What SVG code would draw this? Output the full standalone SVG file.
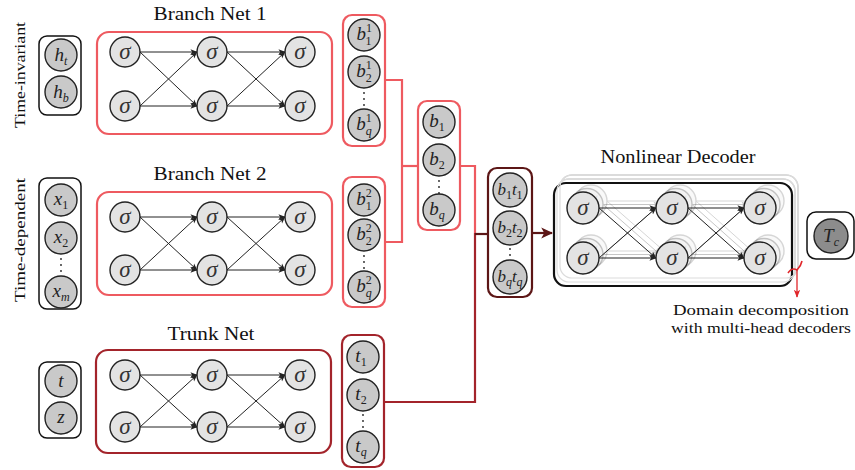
<svg xmlns="http://www.w3.org/2000/svg" xmlns:xlink="http://www.w3.org/1999/xlink" width="855" height="470" viewBox="0 0 855 470">
<style>
  .lbl { font-family: "Liberation Serif", "DejaVu Serif", serif; fill: #111; }
  .title { font-size: 19px; text-anchor: middle; }
  .side { font-size: 15.5px; text-anchor: middle; }
  .m { font-family: "Liberation Serif", "DejaVu Serif", serif; font-style: italic; font-size: 19px; text-anchor: middle; fill: #222; }
  .s { font-size: 12px; font-style: normal; }
  .si { font-size: 12px; }
  .sig { font-family: "Liberation Serif", "DejaVu Serif", serif; font-style: italic; font-size: 23px; text-anchor: middle; fill: #333; }
  .in { fill: #c9c9c9; stroke: #222; stroke-width: 1.4; }
  .neu { fill: #e3e3e3; stroke: #222; stroke-width: 1.4; }
  .box { fill: #fff; stroke: #111; stroke-width: 1.5; }
  .lr { fill: none; stroke: #ee5a60; stroke-width: 2.2; }
  .dr { fill: none; stroke: #a3242b; stroke-width: 2.2; }
  .mr { fill: none; stroke: #5c1616; stroke-width: 2.2; }
  .edge { stroke: #222; stroke-width: 1; fill: none; marker-end: url(#ah); }
  .dots { fill: #222; }
</style>
<defs>
  <marker id="ah" viewBox="0 0 8 8" refX="7.5" refY="4" markerWidth="7" markerHeight="7" markerUnits="userSpaceOnUse" orient="auto">
    <path d="M0,0.8 L8,4 L0,7.2 L2,4 Z" fill="#222"/>
  </marker>
  <marker id="ahm" viewBox="0 0 10 10" refX="9" refY="5" markerWidth="12" markerHeight="12" markerUnits="userSpaceOnUse" orient="auto">
    <path d="M0,0.5 L10,5 L0,9.5 L2.5,5 Z" fill="#5c1616"/>
  </marker>
  <marker id="ahr" viewBox="0 0 10 10" refX="9" refY="5" markerWidth="8" markerHeight="8" markerUnits="userSpaceOnUse" orient="auto">
    <path d="M0,1 L10,5 L0,9 L2.5,5 Z" fill="#e0262a"/>
  </marker>
</defs>

<rect width="855" height="470" fill="#fff"/>

<!-- side labels -->
<text class="lbl side" transform="translate(25,75) rotate(-90)" textLength="106" lengthAdjust="spacingAndGlyphs">Time-invariant</text>
<text class="lbl side" transform="translate(25,240) rotate(-90)" textLength="124" lengthAdjust="spacingAndGlyphs">Time-dependent</text>

<!-- input groups -->
<g id="in-h">
  <rect class="box" x="39" y="36" width="42" height="79" rx="8"/>
  <circle class="in" cx="61" cy="55" r="16"/>
  <text class="m" x="61" y="61">h<tspan class="si" dy="4">t</tspan></text>
  <circle class="in" cx="61" cy="92" r="16"/>
  <text class="m" x="61" y="98">h<tspan class="si" dy="4">b</tspan></text>
</g>
<g id="in-x">
  <rect class="box" x="39" y="178" width="42" height="131" rx="8"/>
  <circle class="in" cx="61" cy="200" r="16"/>
  <text class="m" x="61" y="205">x<tspan class="s" dy="4">1</tspan></text>
  <circle class="in" cx="61" cy="238" r="16"/>
  <text class="m" x="61" y="243">x<tspan class="s" dy="4">2</tspan></text>
  <circle class="dots" cx="61" cy="259" r="0.9"/><circle class="dots" cx="61" cy="265" r="0.9"/><circle class="dots" cx="61" cy="271" r="0.9"/>
  <circle class="in" cx="61" cy="292" r="16"/>
  <text class="m" x="61" y="297">x<tspan class="si" dy="4">m</tspan></text>
</g>
<g id="in-tz">
  <rect class="box" x="39" y="362" width="42" height="76" rx="8"/>
  <circle class="in" cx="61" cy="381" r="16"/>
  <text class="m" x="61" y="387">t</text>
  <circle class="in" cx="61" cy="418" r="16"/>
  <text class="m" x="61" y="423">z</text>
</g>

<!-- Branch Net 1 -->
<g id="branch1">
  <text class="lbl title" x="210" y="20" textLength="113" lengthAdjust="spacingAndGlyphs">Branch Net 1</text>
  <rect class="lr" x="97" y="32" width="235" height="102" rx="12"/>
  <g class="edges">
    <line class="edge" x1="140" y1="52" x2="197" y2="52"/>
    <line class="edge" x1="140" y1="52" x2="197" y2="106"/>
    <line class="edge" x1="140" y1="106" x2="197" y2="52"/>
    <line class="edge" x1="140" y1="106" x2="197" y2="106"/>
    <line class="edge" x1="227" y1="52" x2="285" y2="52"/>
    <line class="edge" x1="227" y1="52" x2="285" y2="106"/>
    <line class="edge" x1="227" y1="106" x2="285" y2="52"/>
    <line class="edge" x1="227" y1="106" x2="285" y2="106"/>
  </g>
  <g id="b1-n11"><circle class="neu" cx="125" cy="52" r="15"/><text class="sig" x="125" y="59">σ</text></g>
  <g id="b1-n12"><circle class="neu" cx="125" cy="106" r="15"/><text class="sig" x="125" y="113">σ</text></g>
  <g id="b1-n21"><circle class="neu" cx="212" cy="52" r="15"/><text class="sig" x="212" y="59">σ</text></g>
  <g id="b1-n22"><circle class="neu" cx="212" cy="106" r="15"/><text class="sig" x="212" y="113">σ</text></g>
  <g id="b1-n31"><circle class="neu" cx="300" cy="52" r="15"/><text class="sig" x="300" y="59">σ</text></g>
  <g id="b1-n32"><circle class="neu" cx="300" cy="106" r="15"/><text class="sig" x="300" y="113">σ</text></g>
</g>

<!-- Branch Net 2 -->
<g id="branch2">
  <text class="lbl title" x="210" y="180" textLength="113" lengthAdjust="spacingAndGlyphs">Branch Net 2</text>
  <rect class="lr" x="97" y="192" width="235" height="103" rx="12"/>
  <g class="edges">
    <line class="edge" x1="140" y1="217" x2="197" y2="217"/>
    <line class="edge" x1="140" y1="217" x2="197" y2="270"/>
    <line class="edge" x1="140" y1="270" x2="197" y2="217"/>
    <line class="edge" x1="140" y1="270" x2="197" y2="270"/>
    <line class="edge" x1="227" y1="217" x2="285" y2="217"/>
    <line class="edge" x1="227" y1="217" x2="285" y2="270"/>
    <line class="edge" x1="227" y1="270" x2="285" y2="217"/>
    <line class="edge" x1="227" y1="270" x2="285" y2="270"/>
  </g>
  <g id="b2-n11"><circle class="neu" cx="125" cy="217" r="15"/><text class="sig" x="125" y="224">σ</text></g>
  <g id="b2-n12"><circle class="neu" cx="125" cy="270" r="15"/><text class="sig" x="125" y="277">σ</text></g>
  <g id="b2-n21"><circle class="neu" cx="212" cy="217" r="15"/><text class="sig" x="212" y="224">σ</text></g>
  <g id="b2-n22"><circle class="neu" cx="212" cy="270" r="15"/><text class="sig" x="212" y="277">σ</text></g>
  <g id="b2-n31"><circle class="neu" cx="300" cy="217" r="15"/><text class="sig" x="300" y="224">σ</text></g>
  <g id="b2-n32"><circle class="neu" cx="300" cy="270" r="15"/><text class="sig" x="300" y="277">σ</text></g>
</g>

<!-- Trunk Net -->
<g id="trunk">
  <text class="lbl title" x="211" y="340" textLength="87" lengthAdjust="spacingAndGlyphs">Trunk Net</text>
  <rect class="dr" x="96" y="350" width="235" height="103" rx="12"/>
  <g class="edges">
    <line class="edge" x1="140" y1="375" x2="197" y2="375"/>
    <line class="edge" x1="140" y1="375" x2="197" y2="427"/>
    <line class="edge" x1="140" y1="427" x2="197" y2="375"/>
    <line class="edge" x1="140" y1="427" x2="197" y2="427"/>
    <line class="edge" x1="227" y1="375" x2="285" y2="375"/>
    <line class="edge" x1="227" y1="375" x2="285" y2="427"/>
    <line class="edge" x1="227" y1="427" x2="285" y2="375"/>
    <line class="edge" x1="227" y1="427" x2="285" y2="427"/>
  </g>
  <g id="t-n11"><circle class="neu" cx="125" cy="375" r="15"/><text class="sig" x="125" y="382">σ</text></g>
  <g id="t-n12"><circle class="neu" cx="125" cy="427" r="15"/><text class="sig" x="125" y="434">σ</text></g>
  <g id="t-n21"><circle class="neu" cx="212" cy="375" r="15"/><text class="sig" x="212" y="382">σ</text></g>
  <g id="t-n22"><circle class="neu" cx="212" cy="427" r="15"/><text class="sig" x="212" y="434">σ</text></g>
  <g id="t-n31"><circle class="neu" cx="300" cy="375" r="15"/><text class="sig" x="300" y="382">σ</text></g>
  <g id="t-n32"><circle class="neu" cx="300" cy="427" r="15"/><text class="sig" x="300" y="434">σ</text></g>
</g>

<!-- connectors between output columns -->
<g id="connectors">
  <path class="lr" d="M385,80 H402 V242 H385"/>
  <path class="lr" d="M402,166 H418"/>
  <path class="lr" d="M460,166 H475 V233"/>
  <path class="dr" d="M384,402 H475 V233"/>
  <path class="mr" d="M475,234 H488"/>
  <path class="mr" d="M532,233 H552" marker-end="url(#ahm)"/>
</g>

<!-- branch 1 outputs -->
<g id="out-b1">
  <rect class="lr" x="343" y="15" width="42" height="131" rx="9"/>
  <circle class="in" cx="364" cy="35" r="16"/>
  <text class="m" x="364" y="40">b<tspan class="s" dy="-8">1</tspan><tspan class="s" dx="-6" dy="13">1</tspan></text>
  <circle class="in" cx="364" cy="72" r="16"/>
  <text class="m" x="364" y="77">b<tspan class="s" dy="-8">1</tspan><tspan class="s" dx="-6" dy="13">2</tspan></text>
  <circle class="dots" cx="364" cy="93" r="0.9"/><circle class="dots" cx="364" cy="99" r="0.9"/><circle class="dots" cx="364" cy="105" r="0.9"/>
  <circle class="in" cx="364" cy="125" r="16"/>
  <text class="m" x="364" y="130">b<tspan class="s" dy="-8">1</tspan><tspan class="si" dx="-6" dy="13">q</tspan></text>
</g>

<!-- branch 2 outputs -->
<g id="out-b2">
  <rect class="lr" x="343" y="177" width="42" height="130" rx="9"/>
  <circle class="in" cx="364" cy="200" r="16"/>
  <text class="m" x="364" y="205">b<tspan class="s" dy="-8">2</tspan><tspan class="s" dx="-6" dy="13">1</tspan></text>
  <circle class="in" cx="364" cy="235" r="16"/>
  <text class="m" x="364" y="240">b<tspan class="s" dy="-8">2</tspan><tspan class="s" dx="-6" dy="13">2</tspan></text>
  <circle class="dots" cx="364" cy="256" r="0.9"/><circle class="dots" cx="364" cy="262" r="0.9"/><circle class="dots" cx="364" cy="268" r="0.9"/>
  <circle class="in" cx="364" cy="287" r="16"/>
  <text class="m" x="364" y="292">b<tspan class="s" dy="-8">2</tspan><tspan class="si" dx="-6" dy="13">q</tspan></text>
</g>

<!-- merged branch outputs -->
<g id="out-b">
  <rect class="lr" x="418" y="101" width="42" height="129" rx="9"/>
  <circle class="in" cx="439" cy="122" r="16"/>
  <text class="m" x="437" y="127">b<tspan class="s" dy="4">1</tspan></text>
  <circle class="in" cx="439" cy="160" r="16"/>
  <text class="m" x="437" y="165">b<tspan class="s" dy="4">2</tspan></text>
  <circle class="dots" cx="439" cy="181" r="0.9"/><circle class="dots" cx="439" cy="187" r="0.9"/><circle class="dots" cx="439" cy="193" r="0.9"/>
  <circle class="in" cx="439" cy="210" r="16"/>
  <text class="m" x="437" y="215">b<tspan class="si" dy="4">q</tspan></text>
</g>

<!-- trunk outputs -->
<g id="out-t">
  <rect class="dr" x="342" y="335" width="42" height="132" rx="9"/>
  <circle class="in" cx="363" cy="357" r="16"/>
  <text class="m" x="361" y="362">t<tspan class="s" dy="4">1</tspan></text>
  <circle class="in" cx="363" cy="395" r="16"/>
  <text class="m" x="361" y="400">t<tspan class="s" dy="4">2</tspan></text>
  <circle class="dots" cx="363" cy="415" r="0.9"/><circle class="dots" cx="363" cy="421" r="0.9"/><circle class="dots" cx="363" cy="427" r="0.9"/>
  <circle class="in" cx="363" cy="447" r="16"/>
  <text class="m" x="361" y="452">t<tspan class="si" dy="4">q</tspan></text>
</g>

<!-- products b_i t_i -->
<g id="out-bt">
  <rect class="mr" x="488" y="168" width="44" height="129" rx="9"/>
  <circle class="in" cx="510" cy="190" r="17"/>
  <text class="m" x="510" y="195" style="font-size:17px">b<tspan class="s" dy="4">1</tspan><tspan dy="-4">t</tspan><tspan class="s" dy="4">1</tspan></text>
  <circle class="in" cx="510" cy="228" r="17"/>
  <text class="m" x="510" y="233" style="font-size:17px">b<tspan class="s" dy="4">2</tspan><tspan dy="-4">t</tspan><tspan class="s" dy="4">2</tspan></text>
  <circle class="dots" cx="510" cy="249" r="0.9"/><circle class="dots" cx="510" cy="255" r="0.9"/><circle class="dots" cx="510" cy="261" r="0.9"/>
  <circle class="in" cx="510" cy="277" r="17"/>
  <text class="m" x="510" y="282" style="font-size:17px">b<tspan class="si" dy="4">q</tspan><tspan dy="-4">t</tspan><tspan class="si" dy="4">q</tspan></text>
</g>

<!-- Nonlinear Decoder with stacked heads -->
<g id="decoder">
  <text class="lbl title" x="678" y="163" textLength="155" lengthAdjust="spacingAndGlyphs">Nonlinear Decoder</text>
  <rect x="560" y="175" width="238" height="103" rx="12" fill="none" stroke="#cfcfcf" stroke-width="1.5"/>
  <rect x="557" y="179" width="238" height="103" rx="12" fill="none" stroke="#cfcfcf" stroke-width="1.5"/>
  <rect x="554" y="183" width="238" height="103" rx="12" fill="#fff" stroke="#111" stroke-width="2.2"/>
  <rect x="557" y="179" width="238" height="103" rx="12" fill="none" stroke="#dcdcdc" stroke-width="1.2"/>
  <rect x="560" y="175" width="238" height="103" rx="12" fill="none" stroke="#dcdcdc" stroke-width="1.2"/>
  <use xlink:href="#dec-net" href="#dec-net" transform="translate(8,-7)" opacity="0.18"/>
  <use xlink:href="#dec-net" href="#dec-net" transform="translate(4,-3.5)" opacity="0.25"/>
  <g id="dec-net">
    <g class="edges">
      <line class="edge" x1="599" y1="208" x2="656" y2="208"/>
      <line class="edge" x1="599" y1="208" x2="656" y2="258"/>
      <line class="edge" x1="599" y1="258" x2="656" y2="208"/>
      <line class="edge" x1="599" y1="258" x2="656" y2="258"/>
      <line class="edge" x1="688" y1="208" x2="744" y2="208"/>
      <line class="edge" x1="688" y1="208" x2="744" y2="258"/>
      <line class="edge" x1="688" y1="258" x2="744" y2="208"/>
      <line class="edge" x1="688" y1="258" x2="744" y2="258"/>
    </g>
    <g id="d-n11"><circle class="neu" cx="583" cy="208" r="16"/><text class="sig" x="583" y="215">σ</text></g>
    <g id="d-n12"><circle class="neu" cx="583" cy="258" r="16"/><text class="sig" x="583" y="265">σ</text></g>
    <g id="d-n21"><circle class="neu" cx="672" cy="208" r="16"/><text class="sig" x="672" y="215">σ</text></g>
    <g id="d-n22"><circle class="neu" cx="672" cy="258" r="16"/><text class="sig" x="672" y="265">σ</text></g>
    <g id="d-n31"><circle class="neu" cx="760" cy="208" r="16"/><text class="sig" x="760" y="215">σ</text></g>
    <g id="d-n32"><circle class="neu" cx="760" cy="258" r="16"/><text class="sig" x="760" y="265">σ</text></g>
  </g>
  <path d="M788,273 Q792,267 797,270 Q801,266 802,261" fill="none" stroke="#e0262a" stroke-width="1.6"/>
  <path d="M797,270 V297" fill="none" stroke="#e0262a" stroke-width="1.3" marker-end="url(#ahr)"/>
  <text class="lbl side" x="761" y="315" textLength="176" lengthAdjust="spacingAndGlyphs">Domain decomposition</text>
  <text class="lbl side" x="761" y="333" textLength="180" lengthAdjust="spacingAndGlyphs">with multi-head decoders</text>
</g>

<!-- output T_c -->
<g id="out-Tc">
  <rect class="box" x="807" y="212" width="47" height="47" rx="9"/>
  <circle cx="831" cy="236" r="17" fill="#8c8c8c" stroke="#222" stroke-width="1.4"/>
  <text class="m" x="831" y="242">T<tspan class="si" dy="4">c</tspan></text>
</g>
</svg>
